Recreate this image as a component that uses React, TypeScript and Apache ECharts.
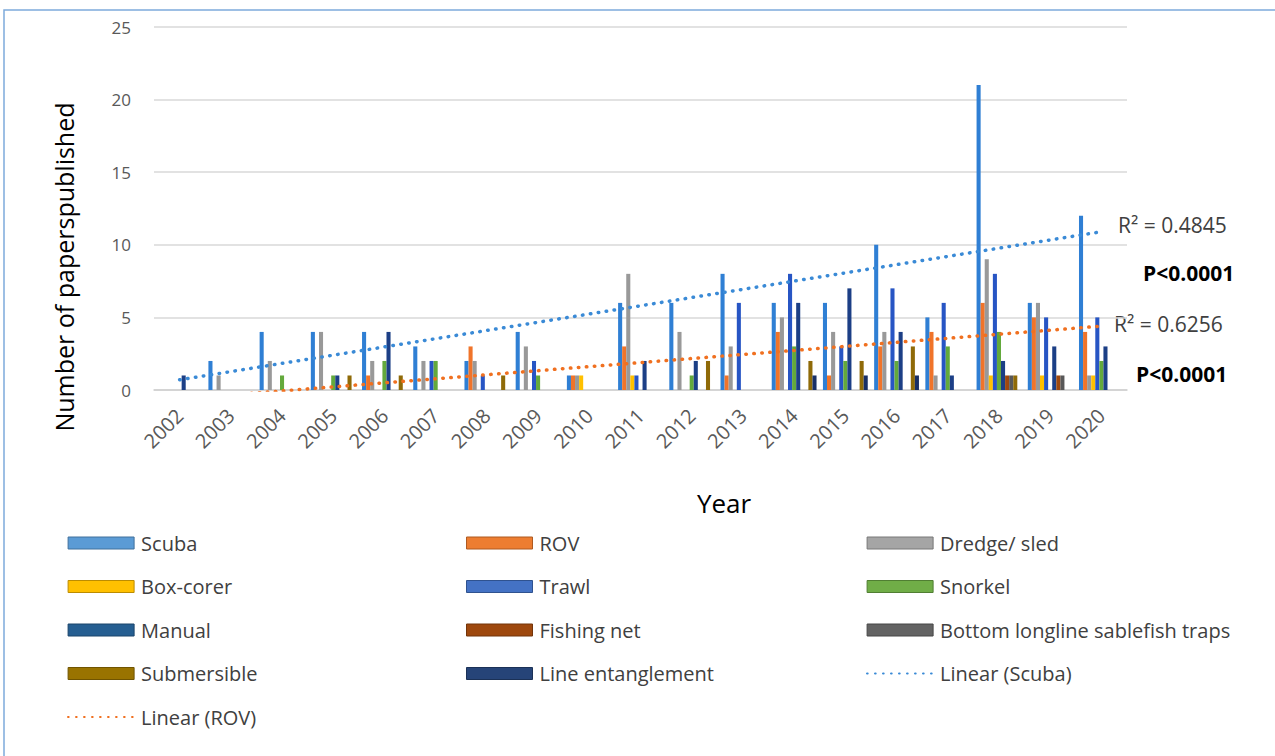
import React, { useEffect, useRef } from "react";
import * as echarts from "echarts";

const years = ["2002", "2003", "2004", "2005", "2006", "2007", "2008", "2009", "2010", "2011", "2012", "2013", "2014", "2015", "2016", "2017", "2018", "2019", "2020"];
const scuba = [0, 2, 4, 4, 4, 3, 2, 4, 1, 6, 6, 8, 6, 6, 10, 5, 21, 6, 12];
const rov = [0, 0, 0, 0, 1, 0, 3, 0, 1, 3, 0, 1, 4, 1, 3, 4, 6, 5, 4];
const dredge = [0, 1, 2, 4, 2, 2, 2, 3, 1, 8, 4, 3, 5, 4, 4, 1, 9, 6, 1];
const boxCorer = [0, 0, 0, 0, 0, 0, 0, 0, 1, 1, 0, 0, 0, 0, 0, 0, 1, 1, 1];
const trawl = [0, 0, 0, 0, 0, 2, 1, 2, 0, 1, 0, 6, 8, 3, 7, 6, 8, 5, 5];
const snorkel = [0, 0, 1, 1, 2, 2, 0, 1, 0, 0, 1, 0, 3, 2, 2, 3, 4, 0, 2];
const manual = [1, 0, 0, 1, 4, 0, 0, 0, 0, 2, 2, 0, 6, 7, 4, 1, 2, 3, 3];
const fishingNet = [0, 0, 0, 0, 0, 0, 0, 0, 0, 0, 0, 0, 0, 0, 0, 0, 1, 1, 0];
const bottomLongline = [0, 0, 0, 0, 0, 0, 0, 0, 0, 0, 0, 0, 0, 0, 0, 0, 1, 1, 0];
const submersible = [0, 0, 0, 1, 1, 0, 1, 0, 0, 0, 2, 0, 2, 2, 3, 0, 1, 0, 0];
const lineEntanglement = [0, 0, 0, 0, 0, 0, 0, 0, 0, 0, 0, 0, 1, 1, 1, 0, 0, 0, 0];

// linear trend line end values (at 2002 and 2020)
const scubaTrend = [0.7, 10.9];
const rovTrend = [-0.62, 4.4];

const yTicks = { min: 0, max: 25, interval: 5 };

const FONT = '"Open Sans", "Noto Sans", sans-serif';

const barSeriesDefs = [
  { name: "Scuba", data: scuba, color: "#2f7fd4", legend: "#5B9BD5", border: "#41719C" },
  { name: "ROV", data: rov, color: "#f0742a", legend: "#ED7D31", border: "#AE5A21" },
  { name: "Dredge/ sled", data: dredge, color: "#999999", legend: "#A5A5A5", border: "#787878" },
  { name: "Box-corer", data: boxCorer, color: "#ffc000", legend: "#FFC000", border: "#BC8C00" },
  { name: "Trawl", data: trawl, color: "#2755c4", legend: "#4472C4", border: "#2F528F" },
  { name: "Snorkel", data: snorkel, color: "#63a93c", legend: "#70AD47", border: "#507E32" },
  { name: "Manual", data: manual, color: "#1c3f86", legend: "#255E91", border: "#1A446B" },
  { name: "Fishing net", data: fishingNet, color: "#9e480e", legend: "#9E480E", border: "#73340A" },
  { name: "Bottom longline sablefish traps", data: bottomLongline, color: "#585858", legend: "#636363", border: "#474747" },
  { name: "Submersible", data: submersible, color: "#8f6a08", legend: "#997300", border: "#705400" },
  { name: "Line entanglement", data: lineEntanglement, color: "#182f66", legend: "#264478", border: "#1B3156" },
];

const legendCols = [
  ["Scuba", "Box-corer", "Manual", "Submersible", "Linear (ROV)"],
  ["ROV", "Trawl", "Fishing net", "Line entanglement"],
  ["Dredge/ sled", "Snorkel", "Bottom longline sablefish traps", "Linear (Scuba)"],
];
const legendLefts = [62, 461, 861];

export default function App() {
  const ref = useRef<HTMLDivElement>(null);

  useEffect(() => {
    if (!ref.current) return;
    const chart = echarts.init(ref.current, undefined, { renderer: "svg" });

    const legendItem = (name: string) => {
      const def = barSeriesDefs.find((d) => d.name === name);
      if (def) {
        return {
          name,
          icon: "rect",
          itemStyle: { color: def.legend, borderColor: def.border, borderWidth: 1 },
        };
      }
      return { name, itemStyle: { opacity: 0 } };
    };

    const option: any = {
      animation: false,
      backgroundColor: "#ffffff",
      textStyle: { fontFamily: FONT },
      grid: { left: 154, right: 148, top: 27, bottom: 366 },
      xAxis: {
        type: "category",
        data: years,
        axisLine: { show: true, lineStyle: { color: "#d0d0d0", width: 1.5 } },
        axisTick: { show: false },
        axisLabel: {
          interval: 0,
          rotate: 45,
          margin: 22,
          fontSize: 20,
          color: "#595959",
          fontFamily: FONT,
        },
      },
      yAxis: {
        type: "value",
        min: yTicks.min,
        max: yTicks.max,
        interval: yTicks.interval,
        axisLine: { show: false },
        axisTick: { show: false },
        axisLabel: { fontSize: 17, color: "#595959", margin: 23, fontFamily: FONT },
        splitLine: { lineStyle: { color: "#d9d9d9", width: 1.5 } },
      },
      legend: legendCols.map((col, i) => ({
        orient: "vertical",
        left: legendLefts[i],
        top: 527,
        itemWidth: 66,
        itemHeight: 12,
        itemGap: 21.5,
        selectedMode: false,
        data: col.map(legendItem),
        lineStyle: { width: 2.2 },
        textStyle: {
          fontSize: 20,
          color: "#404040",
          fontFamily: FONT,
          lineHeight: 22,
          padding: [0, 0, 0, 2],
        },
      })),
      series: [
        ...barSeriesDefs.map((d) => ({
          name: d.name,
          type: "bar",
          data: d.data,
          barGap: "0%",
          barCategoryGap: "12.5%",
          itemStyle: { color: d.color },
        })),
        {
          name: "Linear (Scuba)",
          type: "line",
          data: [
            [years[0], scubaTrend[0]],
            [years[years.length - 1], scubaTrend[1]],
          ],
          symbol: "none",
          clip: true,
          z: 5,
          lineStyle: { color: "#3a8ad6", width: 3.5, type: [0.5, 7.5], cap: "round" },
          itemStyle: { color: "#3a8ad6" },
        },
        {
          name: "Linear (ROV)",
          type: "line",
          data: [
            [years[0], rovTrend[0]],
            [years[years.length - 1], rovTrend[1]],
          ],
          symbol: "none",
          clip: true,
          z: 5,
          lineStyle: { color: "#f07020", width: 3.5, type: [0.5, 7.5], cap: "round" },
          itemStyle: { color: "#f07020" },
        },
      ],
      graphic: [
        {
          type: "rect",
          shape: { x: 4, y: 10, width: 1300, height: 800 },
          style: { fill: "none", stroke: "#7eaadb", lineWidth: 1.5 },
          silent: true,
        },
        {
          type: "text",
          x: 64,
          y: 267,
          rotation: Math.PI / 2,
          style: {
            text: "Number of paperspublished",
            fontSize: 25,
            fontFamily: FONT,
            fill: "#000000",
            textAlign: "center",
            textVerticalAlign: "middle",
          },
        },
        {
          type: "text",
          x: 724,
          y: 503,
          style: {
            text: "Year",
            fontSize: 26,
            fontFamily: FONT,
            fill: "#000000",
            textAlign: "center",
            textVerticalAlign: "middle",
          },
        },
        {
          type: "text",
          x: 1118,
          y: 225,
          style: { text: "R² = 0.4845", fontSize: 21, fontFamily: FONT, fill: "#404040", textAlign: "left", textVerticalAlign: "middle" },
        },
        {
          type: "text",
          x: 1143,
          y: 273,
          style: { text: "P<0.0001", fontSize: 21, fontWeight: "bold", fontFamily: FONT, fill: "#000000", textAlign: "left", textVerticalAlign: "middle" },
        },
        {
          type: "text",
          x: 1114,
          y: 324,
          style: { text: "R² = 0.6256", fontSize: 21, fontFamily: FONT, fill: "#404040", textAlign: "left", textVerticalAlign: "middle" },
        },
        {
          type: "text",
          x: 1136,
          y: 374,
          style: { text: "P<0.0001", fontSize: 21, fontWeight: "bold", fontFamily: FONT, fill: "#000000", textAlign: "left", textVerticalAlign: "middle" },
        },
      ],
    };

    chart.setOption(option);
    return () => chart.dispose();
  }, []);

  return (
    <div
      ref={ref}
      style={{ position: "fixed", left: 0, top: 0, width: 1275, height: 756, background: "#fff" }}
    />
  );
}
